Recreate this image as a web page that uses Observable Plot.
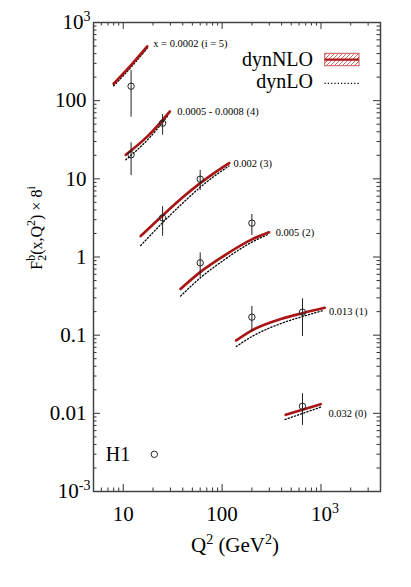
<!DOCTYPE html>
<html><head><meta charset="utf-8">
<script src="https://cdn.jsdelivr.net/npm/d3@7"></script>
<script src="https://cdn.jsdelivr.net/npm/@observablehq/plot@0.6"></script>
<style>html,body{margin:0;padding:0;background:#fff}svg{display:block}svg text{font-family:'Liberation Serif','Times New Roman','DejaVu Serif',serif}</style>
</head><body><div id="chart"></div>
<script>
// ---- data ----
const binIndex = [5, 4, 3, 2, 1, 0];
const binLabel = ["x = 0.0002 (i = 5)", "0.0005 - 0.0008 (4)", "0.002 (3)", "0.005 (2)", "0.013 (1)", "0.032 (0)"];
const nloQ2 = [[8, 12, 17.5], [10.6, 18, 29.6], [15, 25, 40, 60, 85, 118], [38, 60, 100, 200, 298], [139, 200, 400, 650, 1090], [440, 993]];
const nloF  = [[165, 285, 494], [20.3, 36, 72.7], [1.85, 3.4, 5.8, 8.8, 12.1, 15.9], [0.39, 0.64, 1.0, 1.68, 2.07], [0.0855, 0.115, 0.162, 0.191, 0.224], [0.00957, 0.0131]];
const loQ2  = [[8, 12, 17.5], [10.6, 18, 28], [15, 25, 40, 60, 85, 117], [38, 60, 100, 200, 290], [139, 200, 400, 650, 1060], [433, 993]];
const loF   = [[155, 268, 470], [17.5, 32.5, 63], [1.40, 2.75, 4.9, 7.8, 11.0, 14.6], [0.316, 0.54, 0.88, 1.55, 1.94], [0.0716, 0.096, 0.142, 0.173, 0.207], [0.00834, 0.0120]];
const labelQ2 = [20.1, 35.2, 130, 348, 1205, 1188];
const labelF  = [534, 73.3, 15.6, 2.04, 0.203, 0.00986];
const dataBin = [5, 4, 4, 3, 3, 2, 2, 1, 1, 0];
const dataQ2  = [12, 12, 25, 25, 60, 60, 200, 200, 650, 650];
const dataF   = [153, 20.3, 51.5, 3.17, 9.9, 0.843, 2.71, 0.170, 0.197, 0.0123];
const dataLo  = [61.5, 11.0, 36.2, 1.84, 7.1, 0.553, 1.88, 0.109, 0.096, 0.0070];
const dataHi  = [243, 28.9, 66.5, 4.4, 12.8, 1.13, 3.5, 0.233, 0.292, 0.0178];
const yTickValues = [1e3, 100, 10, 1, 0.1, 0.01, 1e-3];
const yTickLabels = ["10^{3}", "100", "10", "1", "0.1", "0.01", "10^{-3}"];
const xTickValues = [10, 100, 1000];
const xTickLabels = ["10", "100", "10^{3}"];

// ---- tables built from the arrays ----
const nlo = binIndex.flatMap((b, k) => nloQ2[k].map((q, j) => ({bin: b, q2: q, f: nloF[k][j]})));
const lo  = binIndex.flatMap((b, k) => loQ2[k].map((q, j) => ({bin: b, q2: q, f: loF[k][j]})));
const labels = binIndex.map((b, k) => ({bin: b, text: binLabel[k], q2: labelQ2[k], f: labelF[k]}));
const pts = dataQ2.map((q, k) => ({bin: dataBin[k], q2: q, f: dataF[k], lo: dataLo[k], hi: dataHi[k]}));
const yTicks = yTickValues.map((v, k) => ({v, label: yTickLabels[k]}));
const xTicks = xTickValues.map((v, k) => ({v, label: xTickLabels[k]}));

const W = 411, H = 587, mL = 93, mR = 31, mT = 22, mB = 96;
const fw = W - mL - mR, fh = H - mT - mB;
const yMinor = [], xMinor = [];
for (let d = -3; d < 3; d++) for (let k = 2; k <= 9; k++) yMinor.push(k * 10 ** d);
for (let d = 0; d < 4; d++) for (let k = 2; k <= 9; k++) { const v = k * 10 ** d; if (v > 5 && v < 4000 && v !== 10 && v !== 100 && v !== 1000) xMinor.push(v); }
const font = "'Liberation Serif', 'Times New Roman', 'DejaVu Serif', serif";
const red = "#a81616";
const tickStyle = {stroke: "#333", strokeWidth: 1};

const plot = Plot.plot({
  width: W, height: H, marginLeft: mL, marginRight: mR, marginTop: mT, marginBottom: mB,
  x: {type: "log", domain: [5, 4000], axis: null},
  y: {type: "log", domain: [1e-3, 1e3], axis: null},
  style: {fontFamily: font, background: "white", color: "black"},
  marks: [
    // ticks (inward, on all four sides)
    Plot.tickY(yTickValues, {y: d => d, insetRight: fw - 7, ...tickStyle}),
    Plot.tickY(yTickValues, {y: d => d, insetLeft: fw - 7, ...tickStyle}),
    Plot.tickY(yMinor, {y: d => d, insetRight: fw - 3.5, ...tickStyle}),
    Plot.tickY(yMinor, {y: d => d, insetLeft: fw - 3.5, ...tickStyle}),
    Plot.tickX(xTickValues, {x: d => d, insetTop: fh - 7, ...tickStyle}),
    Plot.tickX(xTickValues, {x: d => d, insetBottom: fh - 7, ...tickStyle}),
    Plot.tickX(xMinor, {x: d => d, insetTop: fh - 3.5, ...tickStyle}),
    Plot.tickX(xMinor, {x: d => d, insetBottom: fh - 3.5, ...tickStyle}),
    Plot.frame({stroke: "#444", strokeWidth: 1.5}),
    // tick labels
    Plot.text(yTicks.filter(d => !d.label.includes("^")), {y: "v", text: "label", frameAnchor: "left", dx: -7, textAnchor: "end", lineAnchor: "middle", fontSize: 21}),
    Plot.text(yTicks.filter(d => d.label.includes("^")), {y: "v", text: "label", frameAnchor: "left", dx: -3, textAnchor: "end", lineAnchor: "middle", fontSize: 21}),
    Plot.text(xTicks.filter(d => !d.label.includes("^")), {x: "v", text: "label", frameAnchor: "bottom", dy: 23, textAnchor: "middle", lineAnchor: "middle", fontSize: 21}),
    Plot.text(xTicks.filter(d => d.label.includes("^")), {x: "v", text: "label", frameAnchor: "bottom", dy: 23, dx: 4, textAnchor: "middle", lineAnchor: "middle", fontSize: 21}),
    // theory curves
    Plot.line(lo, {x: "q2", y: "f", z: "bin", stroke: "black", strokeWidth: 1.3, strokeDasharray: "1.2 2.1", curve: "monotone-x"}),
    Plot.line(nlo, {x: "q2", y: "f", z: "bin", stroke: red, strokeWidth: 2.7, curve: "monotone-x"}),
    // H1 data
    Plot.ruleX(pts, {x: "q2", y1: "lo", y2: "hi", stroke: "#222", strokeWidth: 1}),
    Plot.dot(pts, {x: "q2", y: "f", r: 3.2, stroke: "#222", fill: "none", strokeWidth: 1}),
    // bin labels
    Plot.text(labels, {x: "q2", y: "f", text: "text", textAnchor: "start", lineAnchor: "middle", fontSize: 10.5})
  ]
});

document.getElementById("chart").appendChild(plot);
const svg = d3.select(plot);

// turn "a^{b}" markup into real superscripts
svg.selectAll("text").each(function() {
  const t = this.textContent;
  if (!t || !t.includes("^{")) return;
  const el = d3.select(this);
  el.text(null);
  const m = t.match(/^(.*)\^\{(.*)\}$/);
  el.append("tspan").text(m[1]);
  el.append("tspan").attr("font-size", 14).attr("dy", -8).text(m[2]);
});

// axis titles
const xt = svg.append("text").attr("x", 235).attr("y", 552).attr("text-anchor", "middle")
  .attr("font-size", 21).attr("fill", "black");
xt.append("tspan").text("Q");
xt.append("tspan").attr("font-size", 14).attr("dy", -8).text("2");
xt.append("tspan").attr("dy", 8).text(" (GeV");
xt.append("tspan").attr("font-size", 14).attr("dy", -8).text("2");
xt.append("tspan").attr("dy", 8).text(")");

const yt = svg.append("text").attr("transform", "translate(42,228) rotate(-90)").attr("text-anchor", "middle")
  .attr("font-size", 16).attr("fill", "black");
yt.append("tspan").text("F");
yt.append("tspan").attr("font-size", 12).attr("dy", -7).text("b");
yt.append("tspan").attr("font-size", 12).attr("dx", -6).attr("dy", 11).text("2");
yt.append("tspan").attr("dy", -4).text("(x,Q");
yt.append("tspan").attr("font-size", 12).attr("dy", -7).text("2");
yt.append("tspan").attr("dy", 7).text(") × 8");
yt.append("tspan").attr("font-size", 12).attr("dy", -7).text("i");

// legend
const defs = svg.append("defs");
const pat = defs.append("pattern").attr("id", "hatch").attr("patternUnits", "userSpaceOnUse")
  .attr("width", 4).attr("height", 4);
pat.append("path").attr("d", "M-1,5L5,-1M-1,1L1,-1M3,5L5,3").attr("stroke", "#c44").attr("stroke-width", 0.8);
svg.append("text").attr("x", 313).attr("y", 65.5).attr("text-anchor", "end")
  .attr("font-size", 20).text("dynNLO");
svg.append("text").attr("x", 313).attr("y", 88).attr("text-anchor", "end")
  .attr("font-size", 20).text("dynLO");
svg.append("rect").attr("x", 324.7).attr("y", 53.3).attr("width", 34.3).attr("height", 12.4)
  .attr("fill", "url(#hatch)").attr("stroke", "#c55").attr("stroke-width", 1);
svg.append("line").attr("x1", 324.7).attr("x2", 359).attr("y1", 59.7).attr("y2", 59.7)
  .attr("stroke", red).attr("stroke-width", 2.2);
svg.append("line").attr("x1", 324.5).attr("x2", 359).attr("y1", 83.3).attr("y2", 83.3)
  .attr("stroke", "black").attr("stroke-width", 1.3).attr("stroke-dasharray", "1.2 2.1");
svg.append("text").attr("x", 118).attr("y", 460.5)
  .attr("font-size", 20).text("H1");
svg.append("circle").attr("cx", 154.3).attr("cy", 454.3).attr("r", 3.2)
  .attr("fill", "none").attr("stroke", "#222").attr("stroke-width", 1);
</script>
</body></html>
